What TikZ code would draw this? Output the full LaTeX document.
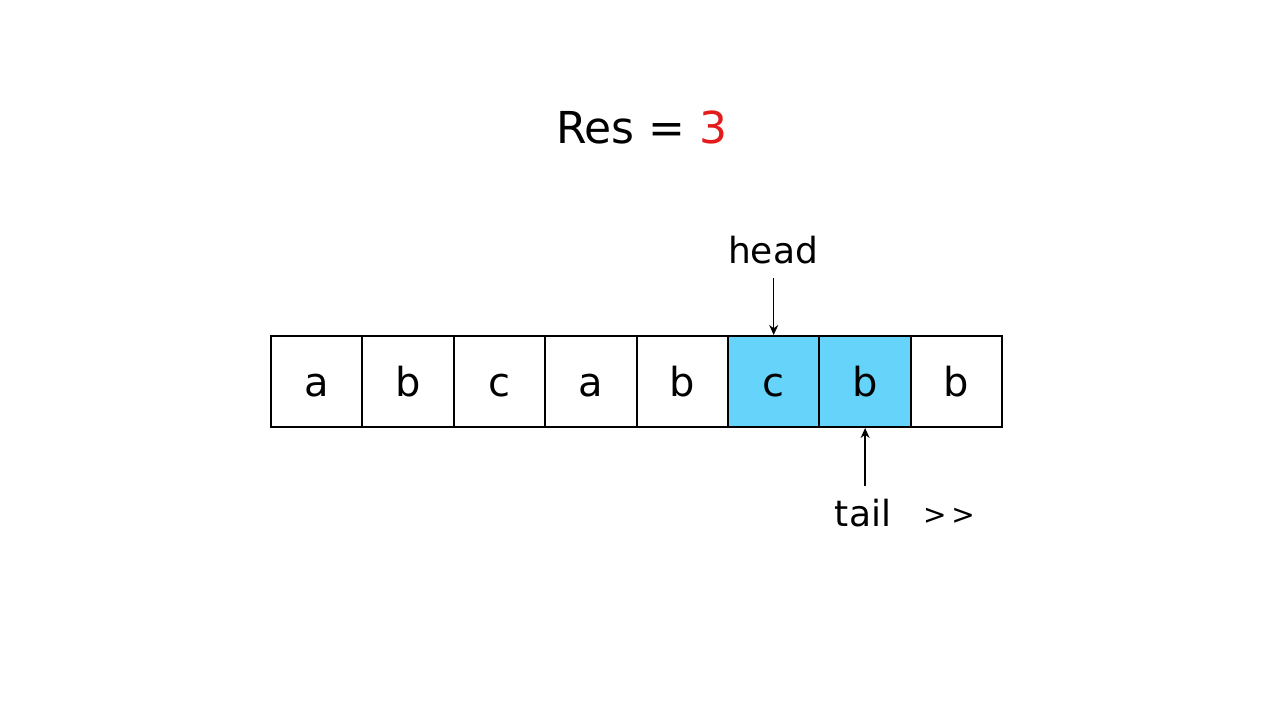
\documentclass[tikz,border=0pt]{standalone}
\usepackage{fontspec}
\setmainfont{DejaVu Sans}
\usepackage{tikz}
\usetikzlibrary{arrows.meta, positioning}
\definecolor{winBlue}{HTML}{66D4FA}
\definecolor{resRed}{HTML}{E31B1B}

\begin{document}
\begin{tikzpicture}[x=1pt, y=-1pt,
    cell/.style={draw, line width=2pt, minimum width=91.4pt, minimum height=91pt, inner sep=0pt, text height=30pt, text depth=0pt, font=\fontsize{40}{44}\selectfont},
    win/.style={cell, fill=winBlue},
    lbl/.style={font=\fontsize{36}{40}\selectfont, inner sep=0pt},
    ptr/.style={-{Stealth[length=10pt, width=9pt]}, line width=1.5pt}]
    \useasboundingbox (0,0) rectangle (1280,720);
    \node[font=\fontsize{44}{48}\selectfont] (res) at (642,127) {Res = \textcolor{resRed}{3}};
    \node[cell] (c1) at (316.7,381.5) {a};
    \node[cell] (c2) at (408.1,381.5) {b};
    \node[cell] (c3) at (499.5,381.5) {c};
    \node[cell] (c4) at (590.9,381.5) {a};
    \node[cell] (c5) at (682.3,381.5) {b};
    \node[win] (c6) at (773.7,381.5) {c};
    \node[win] (c7) at (865.1,381.5) {b};
    \node[cell] (c8) at (956.5,381.5) {b};
    \node[lbl, anchor=base] (head) at (773,263) {head};
    \node[lbl, anchor=base] (tail) at (863,526) {tail};
    \node[lbl, anchor=base, font=\fontsize{28}{32}\selectfont] (more) at (949,524) {>\,>};
    \draw[ptr] (c6.north |- 0,278) -- (c6.north);
    \draw[ptr] (c7.south |- 0,486) -- (c7.south);
\end{tikzpicture}
\end{document}
